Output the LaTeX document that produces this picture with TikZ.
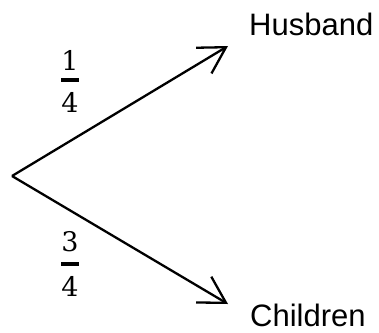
\documentclass[tikz,border=0pt]{standalone}
\usepackage{fontspec}
\setsansfont{Liberation Sans}
\newfontfamily\digfont{DejaVu Serif}
\usetikzlibrary{arrows.meta}
\begin{document}
\begin{tikzpicture}[x=1pt,y=-1pt,
  lbl/.style={font=\sffamily\fontsize{31}{36}\selectfont, inner sep=0pt, anchor=base west},
  digit/.style={font=\digfont\fontsize{27}{31}\selectfont, inner sep=0pt},
  branch/.style={line width=2.3pt, -{Straight Barb[length=26pt,width=30pt,line width=2.3pt]}},
  fbar/.style={line width=3.5pt}]
\useasboundingbox (0,0) rectangle (379,332);
\coordinate (o) at (12,176);
\coordinate (hu) at (228,46);
\coordinate (ch) at (228,304);
\node[lbl] (husband) at (249,35) {Husband};
\node[lbl] (children) at (250,326) {Children};
\draw[branch] (o) -- (hu);
\draw[branch] (o) -- (ch);
\node[digit] (n1) at (70,60) {1};
\node[digit] (d1) at (70,102) {4};
\draw[fbar] (61,80) -- (79,80);
\node[digit] (n2) at (70,242) {3};
\node[digit] (d2) at (70,286) {4};
\draw[fbar] (61,264) -- (79,264);
\end{tikzpicture}
\end{document}
